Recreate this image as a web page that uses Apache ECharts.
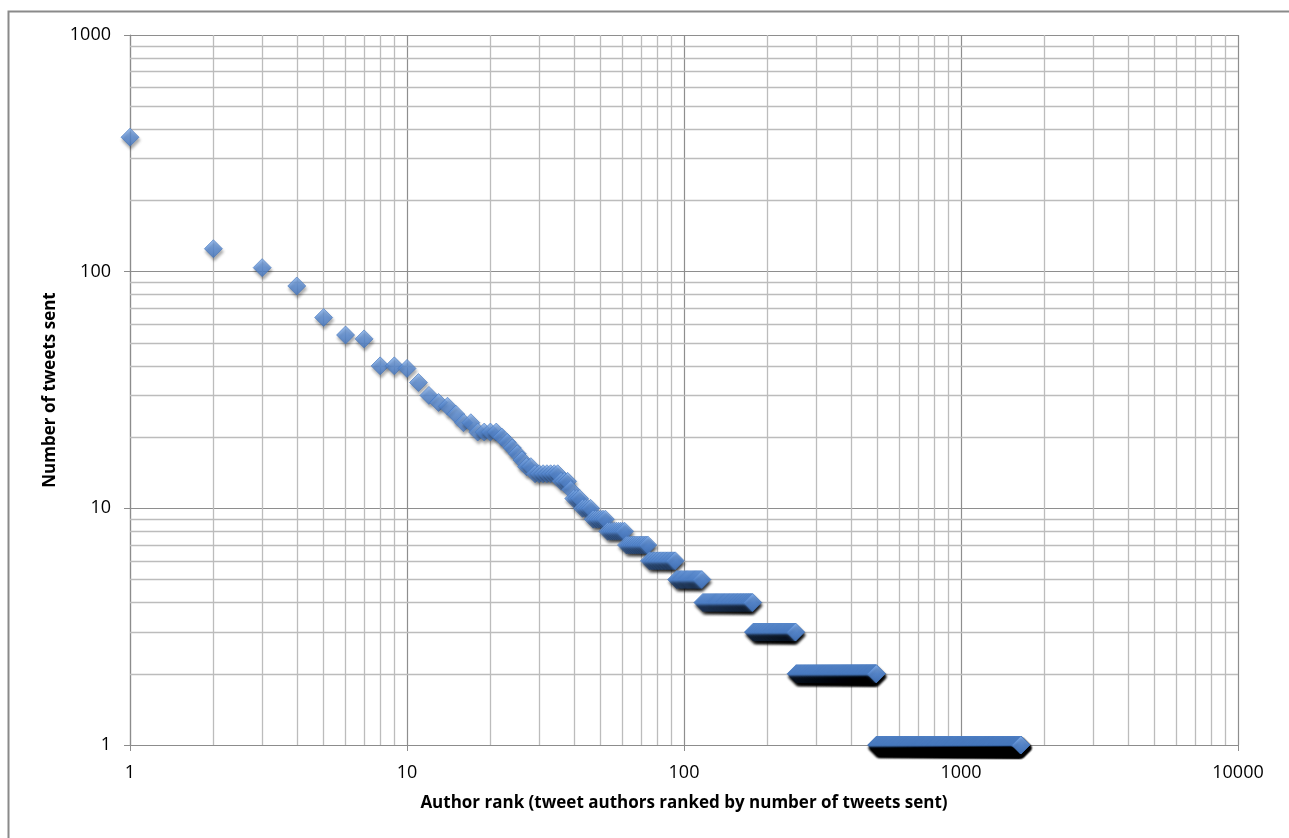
<!DOCTYPE html>
<html>
<head>
<meta charset="utf-8">
<script src="https://cdn.jsdelivr.net/npm/echarts@6/dist/echarts.min.js"></script>
<style>
  html, body { margin: 0; padding: 0; background: #ffffff; }
  #chart { width: 1289px; height: 838px; }
</style>
</head>
<body>
<div id="chart"></div>
<script>
// ---- Data ----
// Tweet counts for the top-ranked authors, ranks 1..28
const topCounts = [370, 125, 104, 87, 64, 54, 52, 40, 40, 39, 34, 30, 28, 27, 25, 23, 23, 21, 21, 21, 21, 20, 19, 18, 17, 16, 15, 15];
// Runs of authors sharing the same tweet count (rank ranges)
const runCounts    = [14, 13, 12, 11, 10,  9,  8,  7,  6,   5,   4,   3,   2,    1];
const runFirstRank = [29, 36, 39, 40, 43, 47, 53, 62, 75,  94, 117, 178, 254,  496];
const runLastRank  = [35, 38, 39, 42, 46, 52, 61, 74, 93, 116, 177, 253, 495, 1645];

// Axis ticks
const xTicks = [1, 10, 100, 1000, 10000];
const yTicks = [1, 10, 100, 1000];
const xTickLabels = ['1', '10', '100', '1000', '10000'];
const yTickLabels = ['1', '10', '100', '1000'];
const minorMultipliers = [2, 3, 4, 5, 6, 7, 8, 9];

const xName = 'Author rank (tweet authors ranked by number of tweets sent)';
const yName = 'Number of tweets sent';

// ---- Build points: one per author rank ----
const points = [];
topCounts.forEach((c, i) => points.push([i + 1, c]));
runCounts.forEach((c, k) => {
  for (let r = runFirstRank[k]; r <= runLastRank[k]; r++) points.push([r, c]);
});

// Minor grid lines (2..9 within each decade)
const minorLines = [];
xTicks.slice(0, -1).forEach(d => minorMultipliers.forEach(m => minorLines.push({ xAxis: d * m })));
yTicks.slice(0, -1).forEach(d => minorMultipliers.forEach(m => minorLines.push({ yAxis: d * m })));

const FONT = 'Open Sans';
const chart = echarts.init(document.getElementById('chart'), null, { renderer: 'canvas' });

chart.setOption({
  animation: false,
  backgroundColor: '#ffffff',
  graphic: [{
    type: 'rect',
    left: 6, top: 9,
    shape: { width: 1320, height: 880 },
    style: { fill: 'none', stroke: '#8a8a8a', lineWidth: 2 },
    silent: true, z: 0
  }],
  grid: { left: 130, right: 51, top: 35, bottom: 93, containLabel: false },
  xAxis: {
    type: 'log', logBase: 10, min: 1, max: 10000,
    name: xName, nameLocation: 'middle', nameGap: 50,
    nameTextStyle: { fontFamily: FONT, fontWeight: 'bold', fontSize: 17, color: '#000' },
    axisLine: { show: true, onZero: false, lineStyle: { color: '#8c8c8c', width: 1.2 } },
    axisTick: { show: true, length: 6, inside: false, lineStyle: { color: '#8c8c8c' } },
    axisLabel: {
      margin: 19, fontFamily: FONT, fontSize: 18, color: '#000',
      formatter: v => { const i = xTicks.indexOf(Math.round(v)); return i >= 0 ? xTickLabels[i] : ''; }
    },
    splitLine: { show: true, lineStyle: { color: '#8e8e8e', width: 1.2 } },
    minorTick: { show: false }, minorSplitLine: { show: false }
  },
  yAxis: {
    type: 'log', logBase: 10, min: 1, max: 1000,
    name: yName, nameLocation: 'middle', nameGap: 67, nameRotate: 90,
    nameTextStyle: { fontFamily: FONT, fontWeight: 'bold', fontSize: 17, color: '#000' },
    axisLine: { show: true, onZero: false, lineStyle: { color: '#8c8c8c', width: 1.2 } },
    axisTick: { show: true, length: 6, inside: false, lineStyle: { color: '#8c8c8c' } },
    axisLabel: {
      margin: 19, fontFamily: FONT, fontSize: 18, color: '#000',
      formatter: v => { const i = yTicks.indexOf(Math.round(v)); return i >= 0 ? yTickLabels[i] : ''; }
    },
    splitLine: { show: true, lineStyle: { color: '#8e8e8e', width: 1.2 } },
    minorTick: { show: false }, minorSplitLine: { show: false }
  },
  series: [
    {
      type: 'scatter', name: 'minorGrid', data: [], z: 1, silent: true,
      markLine: {
        z: 1,
        silent: true, symbol: ['none', 'none'], animation: false,
        label: { show: false },
        lineStyle: { color: '#bcbcbc', width: 1.3, type: 'solid' },
        emphasis: { disabled: true },
        data: minorLines
      }
    },
    {
      type: 'scatter', name: 'authors', z: 6,
      data: points,
      symbol: 'diamond', symbolSize: 18,
      progressive: 0, large: false,
      itemStyle: {
        color: new echarts.graphic.LinearGradient(0, 0, 0, 1, [
          { offset: 0, color: '#86b2ee' },
          { offset: 0.5, color: '#5a8dd6' },
          { offset: 1, color: '#4678c2' }
        ]),
        borderColor: '#4676bb', borderWidth: 0.8,
        shadowColor: 'rgba(0,0,0,0.4)', shadowBlur: 3, shadowOffsetX: 1, shadowOffsetY: 3
      },
      emphasis: { disabled: true }
    }
  ]
});
</script>
</body>
</html>
